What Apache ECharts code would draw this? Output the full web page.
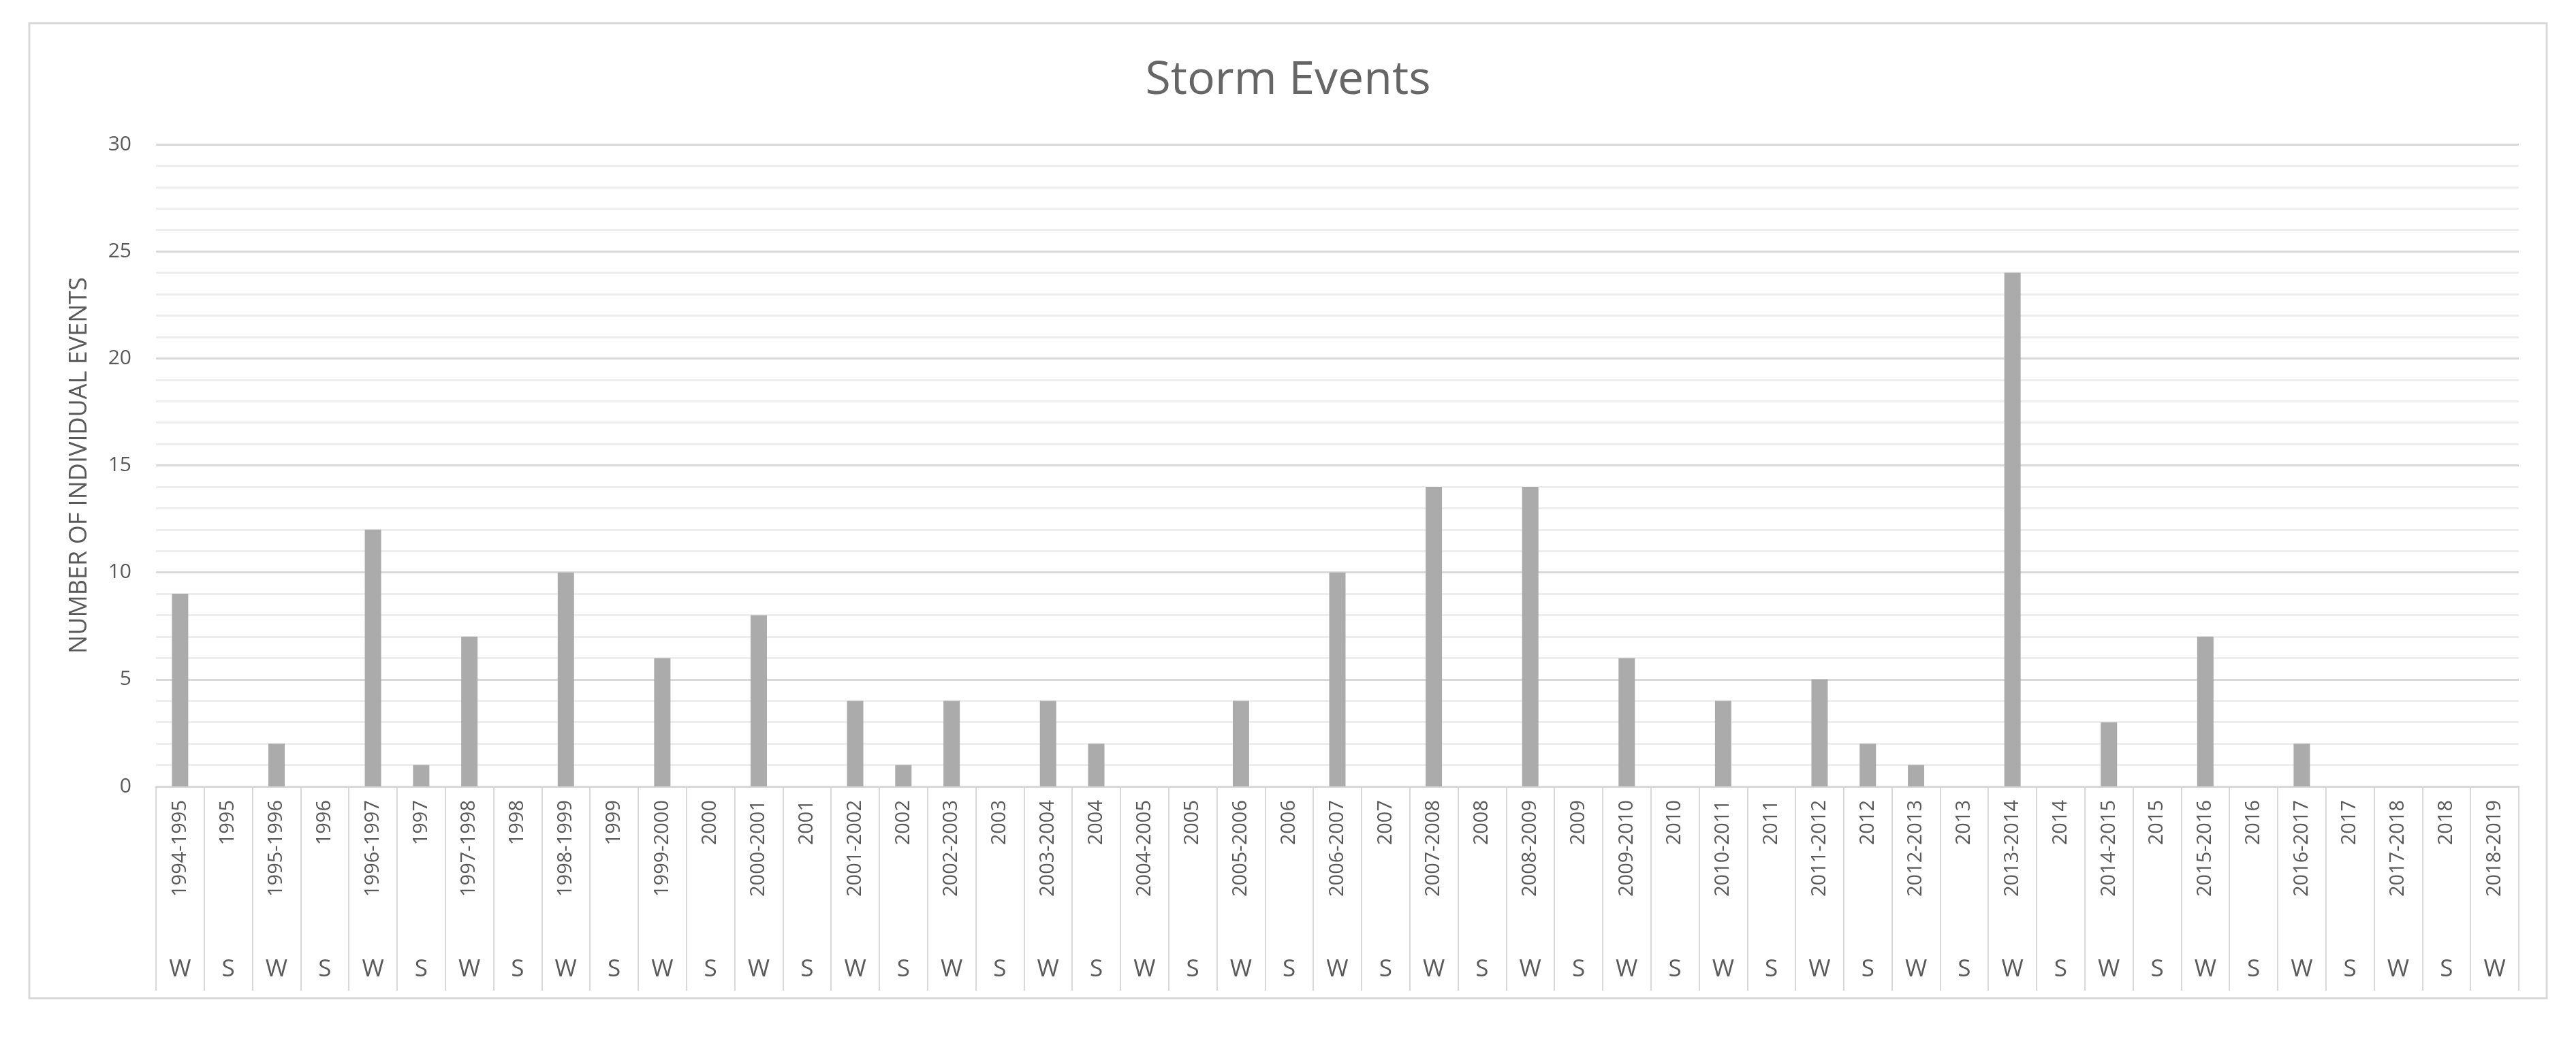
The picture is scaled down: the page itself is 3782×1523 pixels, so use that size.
<!DOCTYPE html>
<html>
<head>
<meta charset="utf-8">
<script src="https://cdn.jsdelivr.net/npm/echarts@6/dist/echarts.min.js"></script>
<style>
  html, body { margin: 0; padding: 0; background: #fff; }
  #chart { width: 3782px; height: 1523px; }
</style>
</head>
<body>
<div id="chart"></div>
<script>
// periods (winter seasons and summer years)
const periods = [
  '1994-1995', '1995', '1995-1996', '1996', '1996-1997', '1997', '1997-1998', '1998',
  '1998-1999', '1999', '1999-2000', '2000', '2000-2001', '2001', '2001-2002', '2002',
  '2002-2003', '2003', '2003-2004', '2004', '2004-2005', '2005', '2005-2006', '2006',
  '2006-2007', '2007', '2007-2008', '2008', '2008-2009', '2009', '2009-2010', '2010',
  '2010-2011', '2011', '2011-2012', '2012', '2012-2013', '2013', '2013-2014', '2014',
  '2014-2015', '2015', '2015-2016', '2016', '2016-2017', '2017', '2017-2018', '2018',
  '2018-2019'
];
const seasons = [
  'W', 'S', 'W', 'S', 'W', 'S', 'W', 'S', 'W', 'S', 'W', 'S', 'W', 'S', 'W', 'S',
  'W', 'S', 'W', 'S', 'W', 'S', 'W', 'S', 'W', 'S', 'W', 'S', 'W', 'S', 'W', 'S',
  'W', 'S', 'W', 'S', 'W', 'S', 'W', 'S', 'W', 'S', 'W', 'S', 'W', 'S', 'W', 'S',
  'W'
];
const events = [
  9, 0, 2, 0, 12, 1, 7, 0, 10, 0, 6, 0, 8, 0, 4, 1,
  4, 0, 4, 2, 0, 0, 4, 0, 10, 0, 14, 0, 14, 0, 6, 0,
  4, 0, 5, 2, 1, 0, 24, 0, 3, 0, 7, 0, 2, 0, 0, 0,
  0
];
const yTicks = { min: 0, max: 30, step: 5 };

const textColor = '#595959';
const font = 'Open Sans';

let chart = echarts.init(document.getElementById('chart'));

let option = {
  backgroundColor: '#ffffff',
  animation: false,
  title: {
    text: 'Storm Events',
    left: 'center',
    top: 80,
    textStyle: { color: '#666666', fontSize: 68, fontWeight: 'normal', fontFamily: font }
  },
  graphic: [
    {
      type: 'rect',
      shape: { x: 43, y: 34, width: 3696, height: 1432 },
      style: { fill: 'none', stroke: '#d9d9d9', lineWidth: 3 },
      silent: true
    }
  ],
  grid: { left: 229, right: 84, top: 212, bottom: 368 },
  xAxis: [
    {
      type: 'category',
      data: periods,
      position: 'bottom',
      axisLine: { lineStyle: { color: '#d9d9d9', width: 3 } },
      axisTick: { show: true, interval: 0, length: 300, lineStyle: { color: '#d9d9d9', width: 2 } },
      axisLabel: {
        interval: 0, rotate: 90, margin: 20,
        color: textColor, fontSize: 29, fontFamily: font
      }
    },
    {
      type: 'category',
      data: seasons,
      position: 'bottom',
      axisLine: { show: false },
      axisTick: { show: false },
      axisLabel: {
        interval: 0, margin: 252,
        color: textColor, fontSize: 35, fontFamily: font
      }
    }
  ],
  yAxis: {
    type: 'value',
    min: yTicks.min,
    max: yTicks.max,
    interval: yTicks.step,
    name: 'NUMBER OF INDIVIDUAL EVENTS',
    nameLocation: 'middle',
    nameRotate: 90,
    nameGap: 94,
    nameTextStyle: { color: textColor, fontSize: 36, fontFamily: font },
    axisLine: { show: false },
    axisTick: { show: false },
    axisLabel: { color: textColor, fontSize: 30, fontFamily: font, margin: 36 },
    splitLine: { lineStyle: { color: '#d9d9d9', width: 3 } },
    minorTick: { show: false, splitNumber: 5 },
    minorSplitLine: { show: true, lineStyle: { color: '#eeeeee', width: 3 } }
  },
  series: [
    {
      name: 'Events',
      type: 'bar',
      xAxisIndex: 0,
      data: events,
      barWidth: 24,
      itemStyle: { color: '#ababab' }
    }
  ]
};

chart.setOption(option);
</script>
</body>
</html>
